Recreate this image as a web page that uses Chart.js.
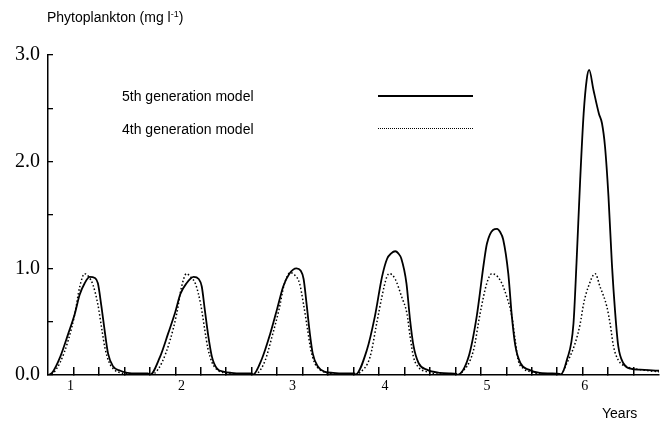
<!DOCTYPE html>
<html>
<head>
<meta charset="utf-8">
<script src="https://cdn.jsdelivr.net/npm/chart.js@4"></script>
<style>
  body { margin: 0; background: #fff; }
  #wrap { position: relative; width: 663px; height: 426px; font-family: "Liberation Sans", Arial, sans-serif; font-size: 14px; color: #000; }
  canvas { position: absolute; left: 0; top: 0; }
  .txt { position: absolute; white-space: nowrap; line-height: 16px; }
  .txt sup { font-size: 9px; vertical-align: 5px; line-height: 0; }
  .key { position: absolute; left: 378px; width: 95px; height: 0; }
</style>
</head>
<body>
<div id="wrap">
  <canvas id="phytochart" width="663" height="426"></canvas>
  <div class="txt" style="left:47px; top:9px;">Phytoplankton (mg l<sup>-1</sup>)</div>
  <div id="legend"></div>
  <div class="txt" style="left:602px; top:405px;">Years</div>
</div>
<script>
// series names (legend)
var seriesNames = ['5th generation model', '4th generation model'];

// 5th generation model (solid line)
var solidYears = [
    0.00, 0.04, 0.12, 0.20, 0.265, 0.31, 0.36, 0.41, 0.46, 0.49, 0.525, 0.56, 0.59, 0.64, 0.71, 0.78, 0.88, 0.98,
    1.00, 1.10, 1.18, 1.25, 1.30, 1.36, 1.43, 1.48, 1.51, 1.54, 1.575, 1.61, 1.66, 1.73, 1.80, 1.90, 2.00,
    2.01, 2.10, 2.18, 2.25, 2.31, 2.37, 2.44, 2.48, 2.51, 2.54, 2.57, 2.60, 2.65, 2.72, 2.80, 2.90, 3.01,
    3.016, 3.13, 3.21, 3.28, 3.33, 3.37, 3.41, 3.44, 3.47, 3.52, 3.555, 3.59, 3.64, 3.72, 3.85, 3.95, 4.01,
    4.015, 4.13, 4.21, 4.28, 4.31, 4.37, 4.41, 4.44, 4.47, 4.52, 4.555, 4.59, 4.64, 4.72, 4.83, 4.95, 5.025,
    5.03, 5.095, 5.16, 5.19, 5.226, 5.26, 5.29, 5.314, 5.357, 5.41, 5.44, 5.47, 5.504, 5.537, 5.57, 5.60, 5.65, 5.72, 5.815, 5.90, 6.00
];
var solidPhyto = [
    0.00, 0.02, 0.17, 0.39, 0.58, 0.75, 0.86, 0.92, 0.91, 0.86, 0.64, 0.39, 0.20, 0.08, 0.04, 0.02, 0.015, 0.015,
    0.00, 0.17, 0.39, 0.59, 0.76, 0.86, 0.92, 0.90, 0.83, 0.61, 0.36, 0.17, 0.06, 0.03, 0.02, 0.015, 0.015,
    0.00, 0.15, 0.38, 0.62, 0.83, 0.95, 1.00, 0.98, 0.90, 0.66, 0.40, 0.20, 0.08, 0.03, 0.02, 0.015, 0.015,
    0.00, 0.23, 0.55, 0.92, 1.09, 1.14, 1.16, 1.14, 1.09, 0.86, 0.52, 0.27, 0.11, 0.05, 0.02, 0.015, 0.01,
    0.00, 0.17, 0.55, 1.05, 1.23, 1.36, 1.37, 1.34, 1.27, 0.95, 0.55, 0.27, 0.11, 0.05, 0.02, 0.015, 0.01,
    0.00, 0.14, 0.48, 1.05, 1.83, 2.45, 2.77, 2.86, 2.67, 2.45, 2.36, 2.14, 1.67, 1.05, 0.58, 0.27, 0.11, 0.06, 0.05, 0.045, 0.04
];

// 4th generation model (dotted line)
var dottedYears = [
    0.00, 0.04, 0.12, 0.20, 0.265, 0.31, 0.36, 0.40, 0.44, 0.49, 0.53, 0.56, 0.60, 0.65, 0.72, 0.80, 0.90, 1.00,
    1.04, 1.12, 1.20, 1.265, 1.31, 1.36, 1.40, 1.45, 1.50, 1.54, 1.57, 1.61, 1.66, 1.73, 1.80, 1.90, 2.01,
    2.05, 2.13, 2.20, 2.27, 2.32, 2.38, 2.42, 2.47, 2.51, 2.55, 2.58, 2.62, 2.67, 2.74, 2.82, 2.92, 3.016,
    3.06, 3.163, 3.229, 3.278, 3.327, 3.353, 3.409, 3.474, 3.524, 3.556, 3.589, 3.64, 3.72, 3.82, 3.92, 4.015,
    4.06, 4.178, 4.244, 4.309, 4.358, 4.44, 4.506, 4.555, 4.587, 4.617, 4.67, 4.74, 4.84, 4.94, 5.03,
    5.095, 5.177, 5.226, 5.26, 5.307, 5.373, 5.42, 5.488, 5.52, 5.553, 5.60, 5.68, 5.815, 6.00
];
var dottedPhyto = [
    0.00, 0.01, 0.12, 0.33, 0.58, 0.82, 0.95, 0.92, 0.85, 0.66, 0.42, 0.25, 0.12, 0.05, 0.02, 0.01, 0.01, 0.00,
    0.01, 0.12, 0.33, 0.58, 0.82, 0.95, 0.92, 0.85, 0.66, 0.42, 0.25, 0.12, 0.05, 0.02, 0.01, 0.01, 0.00,
    0.01, 0.13, 0.36, 0.62, 0.85, 0.96, 0.94, 0.86, 0.66, 0.42, 0.24, 0.11, 0.05, 0.02, 0.01, 0.01, 0.00,
    0.02, 0.17, 0.49, 0.73, 0.92, 0.95, 0.90, 0.73, 0.58, 0.36, 0.17, 0.07, 0.03, 0.01, 0.01, 0.00,
    0.02, 0.23, 0.58, 0.86, 0.95, 0.89, 0.73, 0.55, 0.33, 0.14, 0.06, 0.03, 0.01, 0.01, 0.00,
    0.11, 0.30, 0.48, 0.67, 0.83, 0.95, 0.83, 0.64, 0.48, 0.27, 0.14, 0.08, 0.05, 0.03
];

// small ticks along the time axis (quarters of a year)
var quarterTicks = [
    0.25, 0.5, 0.75, 1, 1.25, 1.5, 1.75, 2, 2.25, 2.5, 2.75, 3,
    3.25, 3.5, 3.75, 4, 4.25, 4.5, 4.75, 5, 5.25, 5.5, 5.75
];

// year labels under the axis and where they sit (in years)
var yearLabels = ['1', '2', '3', '4', '5', '6'];
var yearLabelPos = [0.22, 1.31, 2.40, 3.31, 4.31, 5.27];

function toPoints(xs, ys) {
    var pts = [];
    for (let i = 0; i < xs.length; i++) {
        pts.push({x: xs[i], y: ys[i]});
    }
    return pts;
}

// legend drawn as html: text on the left, line sample on the right
var legendBox = document.getElementById('legend');
var keyTop = [88, 121];
var keyLine = ['2px solid #000', '1.5px dotted #000'];
for (let i = 0; i < seriesNames.length; i++) {
    var t = document.createElement('div');
    t.className = 'txt';
    t.style.left = '122px';
    t.style.top = keyTop[i] + 'px';
    t.textContent = seriesNames[i];
    legendBox.appendChild(t);
    var k = document.createElement('div');
    k.className = 'key';
    k.style.top = (keyTop[i] + 7) + 'px';
    k.style.borderTop = keyLine[i];
    legendBox.appendChild(k);
}

var phytoCanvas = document.getElementById('phytochart').getContext('2d');

var phytoChart = new Chart(phytoCanvas, {
    type: 'line',
    data: {
        datasets: [
            {
                label: seriesNames[0],
                data: toPoints(solidYears, solidPhyto),
                borderColor: '#000',
                borderWidth: 1.8,
                fill: false,
                cubicInterpolationMode: 'monotone'
            },
            {
                label: seriesNames[1],
                data: toPoints(dottedYears, dottedPhyto),
                borderColor: '#000',
                borderWidth: 1.5,
                borderDash: [1.5, 2.2],
                fill: false,
                cubicInterpolationMode: 'monotone'
            }
        ]
    },
    options: {
        responsive: false,
        animation: false,
        devicePixelRatio: 1,
        layout: { padding: { top: 55, right: 4, left: 0, bottom: 0 } },
        elements: { point: { radius: 0 } },
        plugins: {
            legend: { display: false },
            tooltip: { enabled: false }
        },
        scales: {
            x: {
                type: 'linear',
                position: 'bottom',
                min: 0,
                max: 6,
                // quarter marks carry no text, year ticks carry the label but no mark
                afterBuildTicks: function(scale) {
                    var marks = quarterTicks.map(function(v) { return {value: v}; });
                    var years = yearLabelPos.map(function(v, i) { return {value: v, year: yearLabels[i]}; });
                    scale.ticks = marks.concat(years);
                },
                ticks: {
                    autoSkip: false,
                    maxRotation: 0,
                    padding: 11,
                    color: '#000',
                    font: { family: 'Liberation Serif', size: 14 },
                    callback: function(v, i, ticks) { return ticks[i].year || ''; }
                },
                grid: {
                    drawOnChartArea: false,
                    tickLength: -8,
                    lineWidth: 1.5,
                    tickColor: function(ctx) {
                        return (ctx.tick && ctx.tick.year) ? 'rgba(0,0,0,0)' : '#000';
                    }
                },
                border: { color: '#000', width: 1.5 },
                afterFit: function(scale) { scale.height = 51; }
            },
            y: {
                min: 0,
                max: 3,
                ticks: {
                    stepSize: 0.5,
                    padding: 13,
                    color: '#000',
                    font: { family: 'Liberation Serif', size: 20 },
                    callback: function(v) { return Number.isInteger(v) ? v.toFixed(1) : ''; }
                },
                grid: { drawOnChartArea: false, tickLength: -5, color: '#000', lineWidth: 1.3 },
                border: { color: '#000', width: 1.5 },
                afterFit: function(scale) { scale.width = 48; }
            }
        }
    }
});
</script>
</body>
</html>
